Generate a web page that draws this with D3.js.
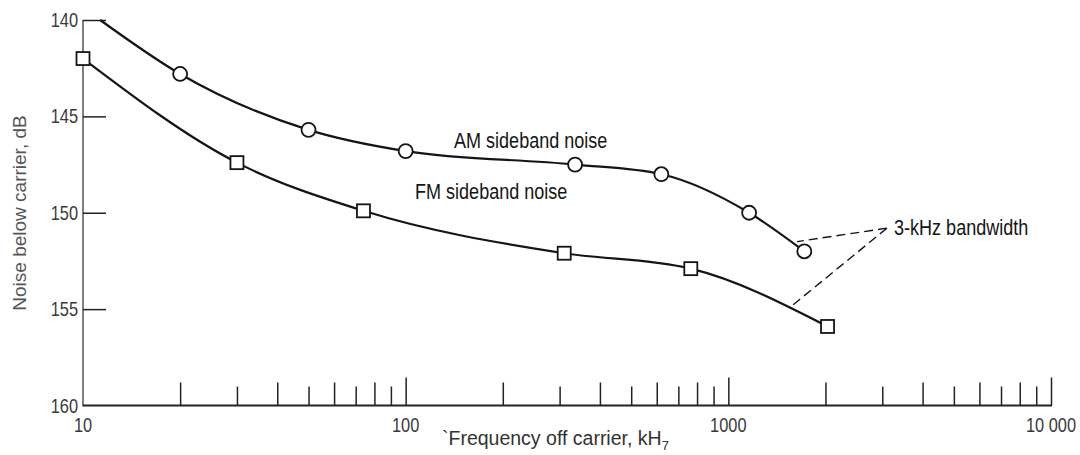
<!DOCTYPE html>
<html>
<head>
<meta charset="utf-8">
<script src="https://cdn.jsdelivr.net/npm/d3@7"></script>
<style>
  html, body { margin: 0; padding: 0; background: #fff; }
  svg { display: block; }
</style>
</head>
<body>
<svg id="chart" width="1080" height="455"></svg>
<script>
// ---- data ----
const amFreq  = [20, 50, 100, 335, 620, 1160, 1720];          // kHz, circles
const amNoise = [142.8, 145.7, 146.8, 147.5, 148.0, 150.0, 152.0];
const amCurveStart = [11.3, 140.0];                            // curve leaves top edge here
const fmFreq  = [10, 30, 74, 310, 765, 2030];                  // kHz, squares
const fmNoise = [142.0, 147.4, 149.9, 152.1, 152.9, 155.9];
const yTickValues = [140, 145, 150, 155, 160];
const xMajorValues = [10, 100, 1000, 10000];
const xMajorLabels = ["10", "100", "1000", "10 000"];
const amLabel = "AM sideband noise";
const fmLabel = "FM sideband noise";
const noteLabel = "3-kHz bandwidth";
const noteAnchor = [3100, 150.8];
const noteTargets = [[1632, 151.5], [1571, 154.84]];
const yTitle = "Noise below carrier, dB";
const xTitle = "`Frequency off carrier, kH";
const xTitleSub = "7";

// ---- layout ----
const svg = d3.select("#chart");
const x = d3.scaleLog().domain([10, 10000]).range([83, 1051]);
const y = d3.scaleLinear().domain([140, 160]).range([20, 405.5]);
const sans = "'Liberation Sans', Arial, sans-serif";
const squeeze = 0.82;   // narrow typeface look
const ink = "#151515";

// helper: narrow text placed at (px,py)
function narrowText(parent, px, py, str, size, anchor, fill) {
  return parent.append("text")
    .attr("transform", `translate(${px},${py}) scale(${squeeze},1)`)
    .attr("text-anchor", anchor || "start")
    .attr("font-family", sans).attr("font-size", size)
    .attr("fill", fill || ink).text(str);
}

// y axis line
svg.append("line").attr("x1", x(10)).attr("x2", x(10))
  .attr("y1", y(140)).attr("y2", y(160) + 1)
  .attr("stroke", "#555").attr("stroke-width", 1.5);
// x axis baseline
svg.append("line").attr("x1", x(10)).attr("x2", x(10000) + 1)
  .attr("y1", y(160)).attr("y2", y(160))
  .attr("stroke", "#222").attr("stroke-width", 2);

// y ticks (pointing inward)
const yAxis = d3.axisRight(y).tickValues(yTickValues.slice(0, -1)).tickSize(23).tickFormat("");
svg.append("g").attr("transform", `translate(${x(10)},0)`).call(yAxis)
  .call(g => g.select(".domain").remove())
  .call(g => g.selectAll("line").attr("stroke", "#222").attr("stroke-width", 1.5));
const yl = svg.append("g");
yTickValues.forEach(d => narrowText(yl, x(10) - 5, y(d) + 7, String(d), 20, "end", "#3a3a3a"));

// x ticks (pointing up): decade ticks longest, even minor ticks medium, odd minor short
const tickLen = d => {
  const m = Math.round(d / Math.pow(10, Math.floor(Math.log10(d) + 1e-9)));
  if (m === 1) return 28;
  return (m % 2 === 0) ? 23 : 19;
};
const xAxis = d3.axisTop(x).tickValues(x.ticks().filter(d => d > 10)).tickSizeInner(0).tickFormat("");
const xg = svg.append("g").attr("transform", `translate(0,${y(160)})`).call(xAxis);
xg.select(".domain").remove();
xg.selectAll(".tick line").attr("y2", d => -tickLen(d)).attr("stroke", "#222").attr("stroke-width", 1.5);

const xl = svg.append("g");
xMajorValues.forEach((d, i) => narrowText(xl, x(d), 432, xMajorLabels[i], 20, "middle", "#3a3a3a"));

// axis titles
svg.append("text")
  .attr("transform", `translate(26,${(115 + 311) / 2}) rotate(-90)`)
  .attr("text-anchor", "middle")
  .attr("font-family", sans).attr("font-size", 19).attr("fill", "#555")
  .text(yTitle);
const xt = svg.append("text").attr("x", 442).attr("y", 445)
  .attr("font-family", sans).attr("font-size", 19.5).attr("fill", "#333");
xt.append("tspan").text(xTitle);
xt.append("tspan").attr("dy", 5).attr("font-size", 13).text(xTitleSub);

// curves
const line = d3.line().x(d => x(d[0])).y(d => y(d[1])).curve(d3.curveMonotoneX);
const amPts = [amCurveStart].concat(amFreq.map((f, i) => [f, amNoise[i]]));
const fmPts = fmFreq.map((f, i) => [f, fmNoise[i]]);
svg.append("path").attr("d", line(amPts)).attr("fill", "none").attr("stroke", ink).attr("stroke-width", 2.2);
svg.append("path").attr("d", line(fmPts)).attr("fill", "none").attr("stroke", ink).attr("stroke-width", 2.2);

// note dashed leaders
svg.append("g").selectAll("line").data(noteTargets).join("line")
  .attr("x1", x(noteAnchor[0])).attr("y1", y(noteAnchor[1]))
  .attr("x2", d => x(d[0])).attr("y2", d => y(d[1]))
  .attr("stroke", ink).attr("stroke-width", 1.4).attr("stroke-dasharray", "9,5");

// markers
svg.append("g").selectAll("circle").data(amFreq).join("circle")
  .attr("cx", d => x(d)).attr("cy", (d, i) => y(amNoise[i])).attr("r", 7)
  .attr("fill", "#fff").attr("stroke", ink).attr("stroke-width", 1.8);
svg.append("g").selectAll("rect").data(fmFreq).join("rect")
  .attr("x", d => x(d) - 6.5).attr("y", (d, i) => y(fmNoise[i]) - 6.5)
  .attr("width", 13).attr("height", 13)
  .attr("fill", "#fff").attr("stroke", ink).attr("stroke-width", 1.8);

// labels
narrowText(svg, 454, 148, amLabel, 22);
narrowText(svg, 415, 199, fmLabel, 22);
narrowText(svg, 894, 235, noteLabel, 22);
</script>
</body>
</html>
